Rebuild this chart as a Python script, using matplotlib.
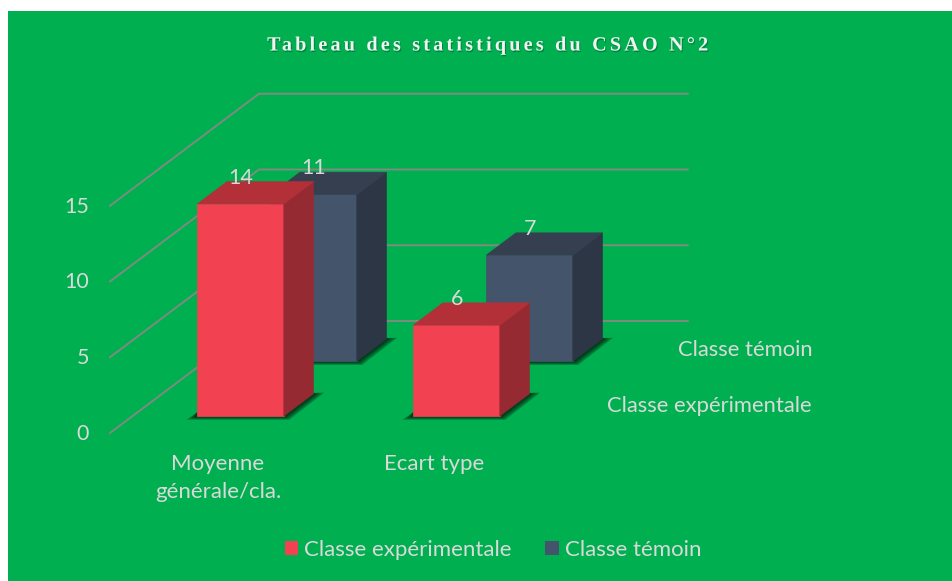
import matplotlib
matplotlib.use("Agg")
import matplotlib.pyplot as plt
import matplotlib.patheffects as pe
import numpy as np
from matplotlib.patches import Patch, Polygon, Rectangle
from matplotlib.path import Path
from matplotlib.transforms import Affine2D, IdentityTransform

# Chart values
title = "Tableau des statistiques du CSAO N°2"
categories = ["Moyenne\ngénérale/cla.", "Ecart type"]
series_names = ["Classe expérimentale", "Classe témoin"]
experimentale = [14, 6]
temoin = [11, 7]
y_ticks = [0, 5, 10, 15]

# Colours: front, side, top of each series
BACKGROUND = "#00AF50"
TEXT = "#D9D9D9"
GRID = "#7F8A80"
RED = ("#F24150", "#962A33", "#B33039")
BLUE = ("#44546A", "#2D3645", "#363F50")

# Layout of the fake 3D box, in pixels
ORIGIN_X, ORIGIN_Y = 110, 433
WALL_W = 432
DEPTH_X, DEPTH_Y = 149, 112
PX_PER_UNIT = 15.15
SLOT_W = WALL_W / len(categories)


class LetterSpaced(pe.AbstractPathEffect):
    """Add even spacing between the glyphs of a text, with a small shadow."""

    def __init__(self, spacing):
        super().__init__()
        self.spacing = spacing

    def draw_path(self, renderer, gc, tpath, affine, rgbFace=None):
        path = affine.transform_path(tpath)
        starts = list(np.flatnonzero(path.codes == Path.MOVETO)) + [len(path.codes)]
        contours = [(path.vertices[a:b], path.codes[a:b]) for a, b in zip(starts, starts[1:])]
        contours.sort(key=lambda c: c[0][:, 0].min())

        # a contour centred inside the previous glyph is a hole or a dot of it
        glyphs = []
        for contour in contours:
            xs = contour[0][:, 0]
            if glyphs and (xs.min() + xs.max()) / 2 < glyphs[-1][0]:
                glyphs[-1][0] = max(glyphs[-1][0], xs.max())
                glyphs[-1][1].append(contour)
            else:
                glyphs.append([xs.max(), [contour]])

        verts, codes = [], []
        shift = 0
        previous_end = None
        for end, parts in glyphs:
            start = min(p[0][:, 0].min() for p in parts)
            if previous_end is not None:
                shift += self.spacing
                if start - previous_end > 3:  # word gap
                    shift += self.spacing
            for v, c in parts:
                verts.append(v + [shift, 0])
                codes.append(c)
            previous_end = end
        verts = np.concatenate(verts) - [shift / 2, 0]
        spaced = Path(verts, np.concatenate(codes))

        shadow = renderer.new_gc()
        shadow.copy_properties(gc)
        shadow.set_alpha(0.35)
        shadow.set_linewidth(0)
        renderer.draw_path(shadow, spaced, Affine2D().translate(1, -1.5), (0, 0.2, 0.1))
        shadow.restore()
        renderer.draw_path(gc, spaced, IdentityTransform(), rgbFace)


def project(x, depth, value):
    """Category position, depth (0-1) and value to pixel position."""
    px = ORIGIN_X + x * SLOT_W + depth * DEPTH_X
    py = ORIGIN_Y - depth * DEPTH_Y - value * PX_PER_UNIT
    return px, py


def draw_shadow(ax, x0, x1, d0, d1, zorder):
    # soft shadow built from stacked translucent polygons
    ax0, ay0 = project(x0, d0, 0)
    ax1, _ = project(x1, d0, 0)
    bx1, by1 = project(x1, d1, 0)
    for spread in [11, 9, 7, 5, 3, 1]:
        shape = [
            (ax0 - spread, ay0 + 0.35 * spread),
            (ax1 + 0.5 * spread, ay0 + 0.35 * spread),
            (bx1 + spread, by1 - 0.1 * spread),
            (bx1, by1 - 0.1 * spread),
            (ax1, ay0 - 4),
            (ax0, ay0 - 4),
        ]
        ax.add_patch(Polygon(shape, closed=True, facecolor="#001A0C", edgecolor="none",
                             alpha=0.24, zorder=zorder))


def draw_bar(ax, cat, series, value, colors):
    x0, x1 = cat + 0.3, cat + 0.7
    d0 = 0.152 + 0.49 * series
    d1 = d0 + 0.198
    zorder = 5 - 2 * series

    draw_shadow(ax, x0, x1, d0, d1, zorder)

    front = [project(x0, d0, 0), project(x1, d0, 0), project(x1, d0, value), project(x0, d0, value)]
    side = [project(x1, d0, 0), project(x1, d1, 0), project(x1, d1, value), project(x1, d0, value)]
    top = [project(x0, d0, value), project(x1, d0, value), project(x1, d1, value), project(x0, d1, value)]
    for points, color in zip([front, side, top], colors):
        ax.add_patch(Polygon(points, closed=True, facecolor=color, edgecolor=color,
                             linewidth=0.5, zorder=zorder + 0.5))

    label_x, label_y = project(cat + 0.5, d0, value)
    ax.text(label_x, label_y - 26, str(value), color=TEXT, fontsize=15.5,
            ha="center", va="center", zorder=10)


def main():
    plt.rcParams["font.family"] = ["Lato", "DejaVu Sans"]

    fig = plt.figure(figsize=(9.53, 5.81), dpi=100, facecolor="white")
    ax = fig.add_axes([0, 0, 1, 1])
    ax.set_xlim(0, 953)
    ax.set_ylim(581, 0)
    ax.axis("off")

    ax.add_patch(Rectangle((8, 11), 945, 570, facecolor=BACKGROUND, edgecolor="none", zorder=0))

    ax.text(488, 45.5, title, color="#F2F2F2", fontsize=14.5, fontweight="bold",
            family="Liberation Serif", ha="center", va="center", zorder=10,
            path_effects=[LetterSpaced(3.2)])

    # Gridlines on the floor side and back wall
    for tick in y_ticks:
        xs = [project(0, 0, tick)[0], project(0, 1, tick)[0], project(1.985, 1, tick)[0]]
        ys = [project(0, 0, tick)[1], project(0, 1, tick)[1], project(1.985, 1, tick)[1]]
        ax.plot(xs, ys, color=GRID, linewidth=1.4, zorder=1)
        ax.text(89, project(0, 0, tick)[1] + 1, str(tick), color=TEXT, fontsize=15.5,
                ha="right", va="center", zorder=10)

    for i in range(len(categories)):
        draw_bar(ax, i, 1, temoin[i], BLUE)
        draw_bar(ax, i, 0, experimentale[i], RED)

    for i, name in enumerate(categories):
        ax.text(project(i + 0.5, 0, 0)[0], 478 if "\n" in name else 464, name, color=TEXT,
                fontsize=16, ha="center", va="center", linespacing=1.5, zorder=10)

    # Series names along the depth axis
    ax.text(813, 350, series_names[1], color=TEXT, fontsize=15.8, ha="right", va="center", zorder=10)
    ax.text(812, 406, series_names[0], color=TEXT, fontsize=15.8, ha="right", va="center", zorder=10)

    handles = [Patch(facecolor=RED[0], label=series_names[0]),
               Patch(facecolor=BLUE[0], label=series_names[1])]
    ax.legend(handles=handles, loc="center", bbox_to_anchor=(493 / 953, 1 - 550 / 581), ncol=2,
              frameon=False, fontsize=16, labelcolor=TEXT, handlelength=0.6, handleheight=0.6,
              handletextpad=0.27, columnspacing=1.5)

    fig.savefig("out.png", dpi=100)


if __name__ == "__main__":
    main()
